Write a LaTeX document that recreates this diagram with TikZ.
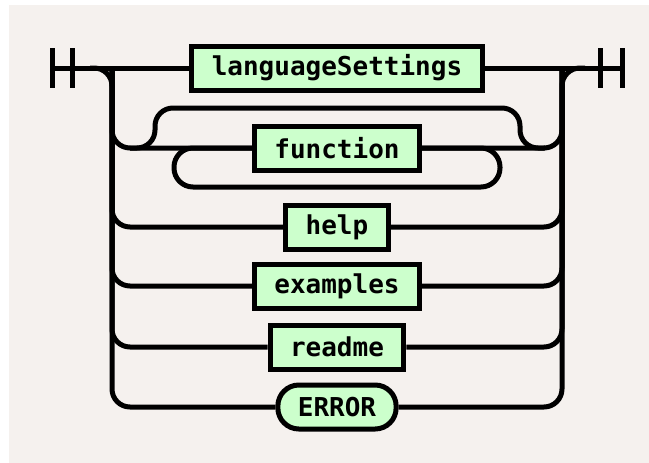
\documentclass[tikz,border=0pt]{standalone}
\usepackage{fontspec}
\newfontfamily\railfont{DejaVu Sans Mono}
\definecolor{paper}{RGB}{245,241,238}
\definecolor{termfill}{RGB}{204,255,204}
\begin{document}
\begin{tikzpicture}[x=1pt,y=-1pt,line width=5pt]
  \tikzstyle{term}=[draw,fill=termfill,rectangle,inner xsep=20pt,inner ysep=0pt,minimum height=44pt,
    font=\railfont\bfseries\fontsize{26}{30}\selectfont]
  \tikzstyle{token}=[term,rounded corners=21pt]
  \def\r{18pt}	% radius of rail bends
  \def\cx{337}	% centre of all boxes
  \useasboundingbox (0,0) rectangle (649,463);
  \fill[white] (0,0) rectangle (649,463);
  \fill[paper] (9,5) rectangle (649,463);
  % ends and rails
  \coordinate (start) at (52,68);
  \coordinate (stop) at (622,68);
  \coordinate (lrail) at (112,68);
  \coordinate (rrail) at (562,68);
  \coordinate (byl) at (155,108);
  \coordinate (byr) at (520,108);
  \coordinate (loopl) at (174,187);
  \coordinate (loopr) at (500,187);
  \node[term] (lang) at (\cx,68) {languageSettings};
  \node[term] (fn) at (\cx,148) {function};
  \node[term] (help) at (\cx,227) {help};
  \node[term] (ex) at (\cx,286) {examples};
  \node[term] (readme) at (\cx,347) {readme};
  \node[token] (err) at (\cx,407) {ERROR};
  \draw (start) ++(0,-20) -- ++(0,40);
  \draw (start) ++(20,-20) -- ++(0,40);
  \draw (stop) ++(0,-20) -- ++(0,40);
  \draw (stop) ++(-22,-20) -- ++(0,40);
  \draw (start) -- (lang.west);
  \draw (lang.east) -- (stop);
  \draw[rounded corners=\r] (lrail) ++(-22,0) -- (lrail) |- (err.west);
  \draw[rounded corners=\r] (err.east) -| (rrail) -- ++(23,0);
  \foreach \n in {fn,help,ex,readme}{
    \draw[rounded corners=\r] (lrail) |- (\n.west);
    \draw[rounded corners=\r] (\n.east) -| (rrail);
  }
  % skip and repeat round function
  \draw[rounded corners=\r] (130,148) -| (byl) -- (byr) |- (545,148);
  \draw[rounded corners=19pt] (fn.east) -| (loopr) -- (loopl) |- (fn.west);
\end{tikzpicture}
\end{document}
